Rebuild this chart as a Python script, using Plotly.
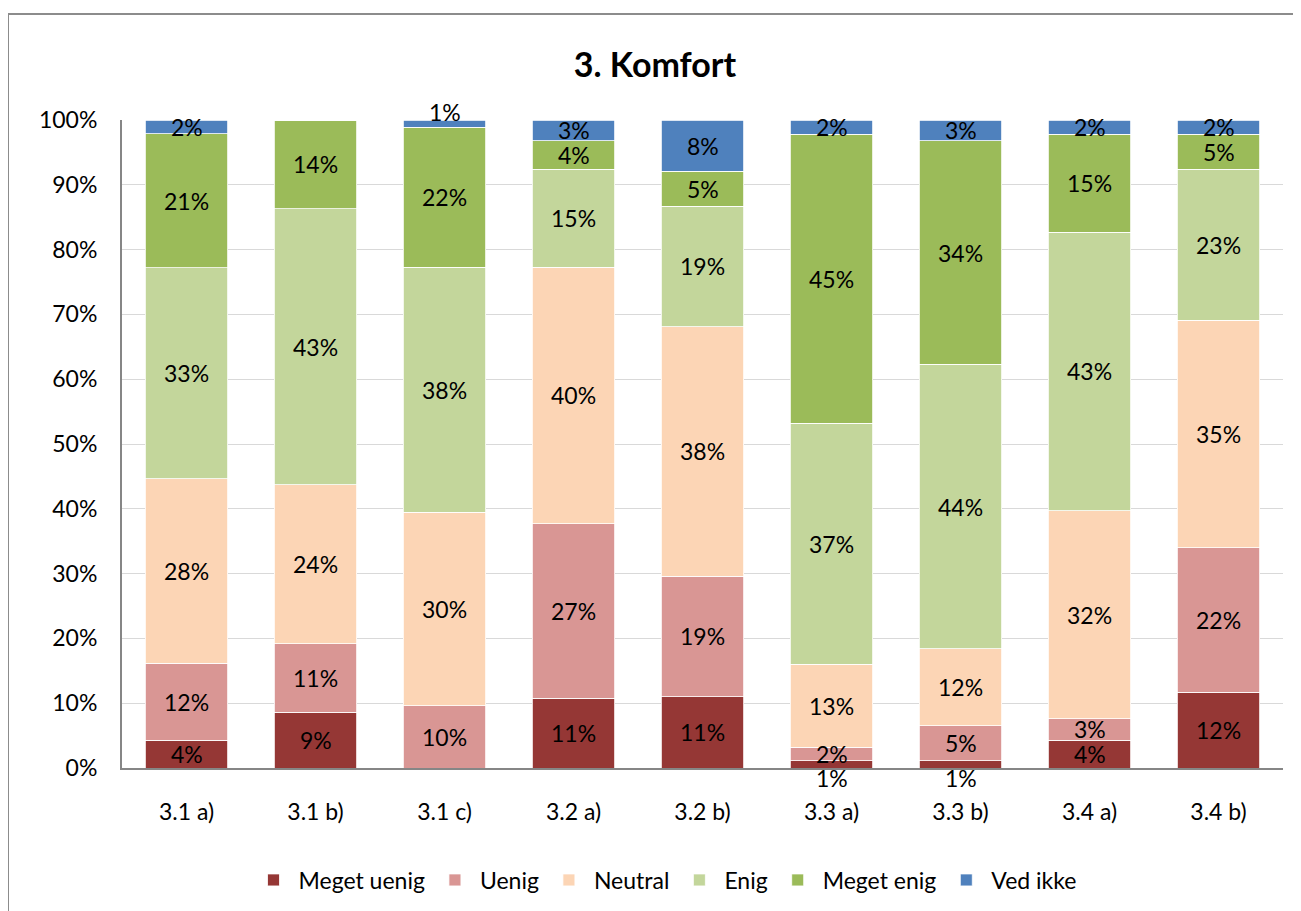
import plotly.graph_objects as go

categories = ["3.1 a)", "3.1 b)", "3.1 c)", "3.2 a)", "3.2 b)", "3.3 a)", "3.3 b)", "3.4 a)", "3.4 b)"]

meget_uenig = [4.3, 8.6, 0.0, 10.8, 11.0, 1.1, 1.1, 4.3, 11.7]
uenig = [11.9, 10.6, 9.6, 26.9, 18.6, 2.1, 5.4, 3.3, 22.3]
neutral = [28.4, 24.5, 29.9, 39.6, 38.5, 12.8, 11.9, 32.1, 35.1]
enig = [32.6, 42.6, 37.8, 15.1, 18.6, 37.2, 43.9, 43.0, 23.3]
meget_enig = [20.7, 13.7, 21.6, 4.4, 5.4, 44.6, 34.5, 15.1, 5.4]
ved_ikke = [2.1, 0.0, 1.1, 3.2, 7.9, 2.2, 3.2, 2.2, 2.2]

series = [
    ("Meget uenig", meget_uenig, "#953735"),
    ("Uenig", uenig, "#D99694"),
    ("Neutral", neutral, "#FCD5B5"),
    ("Enig", enig, "#C3D69B"),
    ("Meget enig", meget_enig, "#9BBB59"),
    ("Ved ikke", ved_ikke, "#4F81BD"),
]

FONT = "Lato, Calibri, Carlito, sans-serif"
FS = 23

fig = go.Figure()
for name, vals, color in series:
    fig.add_trace(go.Bar(
        name=name, x=categories, y=vals,
        marker=dict(color=color, line=dict(color="white", width=0.8)),
        hoverinfo="x+y+name",
    ))

# data labels centred on each segment; tiny end segments pushed outside the bar
annotations = []
base = [0.0] * len(categories)
for si, (name, vals, color) in enumerate(series):
    for i, v in enumerate(vals):
        if v > 0:
            ypos = base[i] + v / 2
            if v < 1.5 and si == 0:
                ypos = -1.6
            elif v < 1.5 and si == len(series) - 1:
                ypos = 101.3
            annotations.append(dict(
                x=categories[i], y=ypos / 100, xref="x", yref="paper",
                xanchor="center", yanchor="middle",
                text=f"{round(v):.0f}%", showarrow=False,
                font=dict(family=FONT, size=FS, color="black"),
            ))
        base[i] += v

# page body has an 8px margin, so figure pixels = screenshot pixels - 8
W, H = 1301, 911
ml, mr, mt, mb = 114, 26, 112, 151
pw, ph = W - ml - mr, H - mt - mb

# outer chart border (pixel box converted to paper coords)
bx0, by0, bx1, by1 = 0, 6, 1300, 910
shapes = [dict(
    type="rect", xref="paper", yref="paper",
    x0=(bx0 - ml) / pw, x1=(bx1 - ml) / pw,
    y0=1 - (by1 - mt) / ph, y1=1 - (by0 - mt) / ph,
    line=dict(color="#8C8C8C", width=2), layer="below",
)]

fig.update_layout(
    barmode="stack",
    bargap=0.36,
    width=W, height=H,
    margin=dict(l=ml, r=mr, t=mt, b=mb),
    plot_bgcolor="white",
    paper_bgcolor="white",
    font=dict(family=FONT, size=FS, color="black"),
    title=dict(
        text="<b>3. Komfort</b>", x=(655 - 8) / W, xref="container", xanchor="center",
        y=1 - (65 - 8) / H, yref="container", yanchor="middle",
        font=dict(family=FONT, size=34, color="black"),
    ),
    xaxis=dict(
        showline=True, linecolor="#868686", linewidth=2,
        ticks="", ticklabelstandoff=22,
        tickfont=dict(family=FONT, size=FS),
    ),
    yaxis=dict(
        range=[0, 100], dtick=10, ticksuffix="%",
        showgrid=True, gridcolor="#D9D9D9", gridwidth=1,
        showline=True, linecolor="#868686", linewidth=2,
        ticks="", ticklabelstandoff=18, zeroline=False,
        tickfont=dict(family=FONT, size=FS),
    ),
    legend=dict(
        orientation="h", x=(665 - 8 - ml) / pw, xanchor="center",
        y=-(880 - 8 - mt - ph) / ph, yanchor="middle",
        font=dict(family=FONT, size=FS), traceorder="normal",
        itemwidth=40,
    ),
    annotations=annotations,
    shapes=shapes,
)

fig.write_html("out.html")
